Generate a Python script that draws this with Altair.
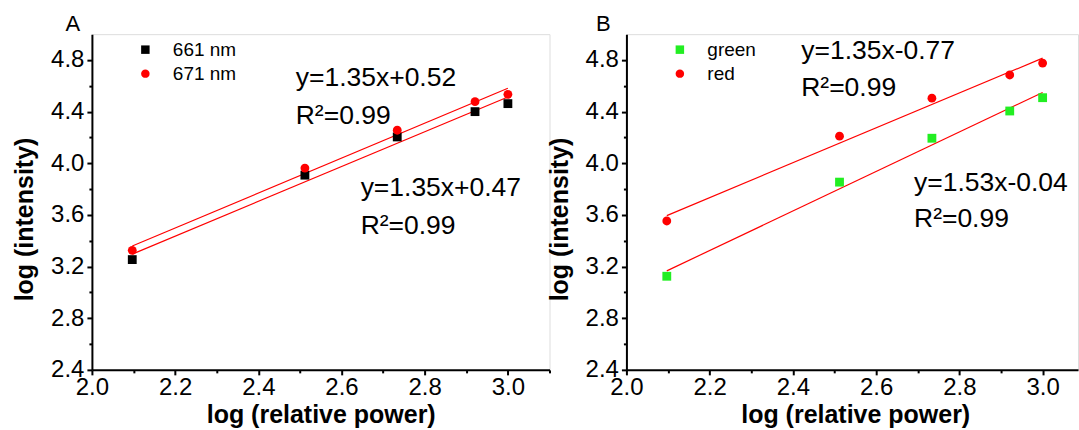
import altair as alt
import pandas as pd

# ---- data ----
x_power = [2.097, 2.512, 2.734, 2.921, 3.0]

a_series = ["661 nm", "671 nm"]
a_661 = [3.254, 3.908, 4.204, 4.400, 4.462]
a_671 = [3.326, 3.963, 4.256, 4.477, 4.534]

b_series = ["green", "red"]
b_green = [3.125, 3.854, 4.194, 4.405, 4.508]
b_red = [3.553, 4.210, 4.504, 4.684, 4.776]

x_ticks_a = [2.0, 2.1, 2.2, 2.3, 2.4, 2.5, 2.6, 2.7, 2.8, 2.9, 3.0, 3.1]
x_ticks_b = [2.0, 2.1, 2.2, 2.3, 2.4, 2.5, 2.6, 2.7, 2.8, 2.9, 3.0]
y_ticks = [2.4, 2.6, 2.8, 3.0, 3.2, 3.4, 3.6, 3.8, 4.0, 4.2, 4.4, 4.6, 4.8]

a_ann_text = ["y=1.35x+0.52", "R²=0.99", "y=1.35x+0.47", "R²=0.99"]
a_ann_x = [2.49, 2.49, 2.646, 2.646]
a_ann_y = [4.599, 4.305, 3.749, 3.455]

b_ann_text = ["y=1.35x-0.77", "R²=0.99", "y=1.53x-0.04", "R²=0.99"]
b_ann_x = [2.42, 2.42, 2.691, 2.691]
b_ann_y = [4.807, 4.523, 3.789, 3.509]

FONT = "Liberation Sans"
H = 336


def panel(series, ys, colors, shapes, ann_text, ann_x, ann_y, letter, letter_dx,
          width, xmax, xticks):
    rows = []
    for s, yv in zip(series, ys):
        for xv, v in zip(x_power, yv):
            rows.append({"x": xv, "y": v, "series": s})
    df = pd.DataFrame(rows)

    x_axis = alt.Axis(
        values=xticks,
        labelExpr="round(datum.value*10) % 2 == 0 ? format(datum.value, '.1f') : ''",
        tickSize={"condition": {"test": "round(datum.value*10) % 2 == 0", "value": 5}, "value": 3},
        title="log (relative power)", titleX=229, titleY=53, titleBaseline="alphabetic",
        titleFontSize=25, titleFontWeight="bold", titleFont=FONT, titleColor="black",
        labelFontSize=24, labelFont=FONT, labelColor="black", labelPadding=1,
        labelOverlap=False, labelFlush=False,
        domainWidth=2, domainColor="black", tickWidth=2, tickColor="black", grid=False,
    )
    y_axis = alt.Axis(
        values=y_ticks,
        labelExpr="round(datum.value*10) % 4 == 0 ? format(datum.value, '.1f') : ''",
        tickSize={"condition": {"test": "round(datum.value*10) % 4 == 0", "value": 5}, "value": 3},
        title="log (intensity)", titleX=-59, titleY=185, titleBaseline="alphabetic",
        titleFontSize=25, titleFontWeight="bold", titleFont=FONT, titleColor="black",
        labelFontSize=24, labelFont=FONT, labelColor="black", labelPadding=3,
        labelOverlap=False, labelFlush=False,
        domainWidth=2, domainColor="black", tickWidth=2, tickColor="black", grid=False,
    )
    xenc = alt.X("x:Q", scale=alt.Scale(domain=[2.0, xmax], nice=False, zero=False), axis=x_axis)
    yenc = alt.Y("y:Q", scale=alt.Scale(domain=[2.4, 5.0], nice=False, zero=False), axis=y_axis)

    legend = alt.Legend(
        orient="none", legendX=44, legendY=6, title=None,
        labelFontSize=19, labelFont=FONT, labelColor="black",
        symbolSize=72, labelOffset=18, rowPadding=4, padding=0,
        symbolStrokeWidth=0,
    )

    points = alt.Chart(df).mark_point(filled=True, size=78, opacity=1).encode(
        x=xenc, y=yenc,
        color=alt.Color("series:N", scale=alt.Scale(domain=series, range=colors), legend=legend),
        shape=alt.Shape("series:N", scale=alt.Scale(domain=series, range=shapes), legend=legend),
    )

    fits = alt.Chart(df).transform_regression(
        "x", "y", groupby=["series"]
    ).mark_line(color="#ff0000", strokeWidth=1.2).encode(
        x=xenc, y=yenc, detail="series:N"
    )

    ann_df = pd.DataFrame({"x": ann_x, "y": ann_y, "t": ann_text})
    ann = alt.Chart(ann_df).mark_text(
        align="left", baseline="alphabetic", fontSize=26.5, font=FONT, color="black"
    ).encode(x=xenc, y=yenc, text="t:N")

    let_df = pd.DataFrame({"t": [letter]})
    let = alt.Chart(let_df).mark_text(
        align="center", baseline="alphabetic", fontSize=22, font=FONT, color="black"
    ).encode(x=alt.value(letter_dx), y=alt.value(-3), text="t:N")

    return alt.layer(fits, points, ann, let).properties(width=width, height=H)


pa = panel(a_series, [a_661, a_671], ["#000000", "#ff0000"], ["square", "circle"],
           a_ann_text, a_ann_x, a_ann_y, "A", -19, 458, 3.1, x_ticks_a)
pb = panel(b_series, [b_green, b_red], ["#22ee22", "#ff0000"], ["square", "circle"],
           b_ann_text, b_ann_x, b_ann_y, "B", -23, 452, 3.085, x_ticks_b)

chart = alt.hconcat(pa, pb, spacing=77, bounds="flush").resolve_scale(
    color="independent", shape="independent"
).properties(
    padding={"left": 12, "top": 12, "right": 0, "bottom": 2}
).configure_view(stroke=None).configure(background="white")

chart.save("out.html", embed_options={"renderer": "svg", "actions": False})
